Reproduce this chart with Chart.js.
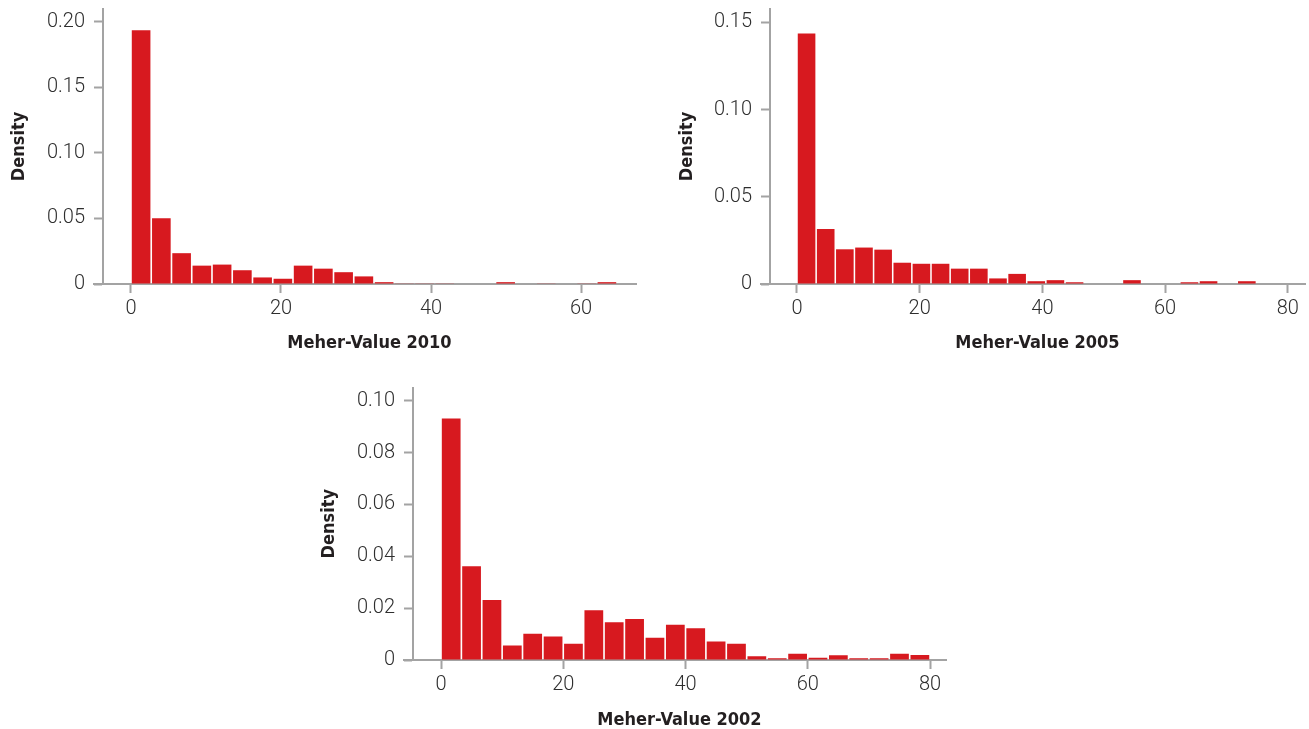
<!DOCTYPE html>
<html>
<head>
<meta charset="utf-8">
<script src="https://cdn.jsdelivr.net/npm/chart.js@4.4.1/dist/chart.umd.min.js"></script>
<style>
    html, body { margin: 0; padding: 0; background: #fff; overflow: hidden; }
    body { width: 1309px; height: 729px; position: relative; }
    canvas { position: absolute; }
</style>
</head>
<body>
<canvas id="chart2010" width="655" height="370" style="left:0px;top:0px"></canvas>
<canvas id="chart2005" width="654" height="370" style="left:655px;top:0px"></canvas>
<canvas id="chart2002" width="650" height="370" style="left:310px;top:375px"></canvas>
<script>
// histogram densities, one value per bin (bins start at 0)
var binWidth2010 = 2.7;
var density2010 = [0.1935, 0.0502, 0.0235, 0.0140, 0.0148, 0.0105, 0.0050, 0.0040, 0.0140, 0.0117,
                   0.0090, 0.0058, 0.0014, 0.0005, 0.0005, 0.0005, 0, 0, 0.0014, 0,
                   0.0005, 0, 0.0005, 0.0014];

var binWidth2005 = 3.12;
var density2005 = [0.1437, 0.0315, 0.0199, 0.0209, 0.0197, 0.0122, 0.0116, 0.0116, 0.0088, 0.0088,
                   0.0032, 0.0058, 0.0016, 0.0022, 0.0010, 0, 0, 0.0022, 0, 0,
                   0.0010, 0.0016, 0, 0.0016];

var binWidth2002 = 3.333;
var density2002 = [0.0931, 0.0362, 0.0231, 0.0056, 0.0101, 0.0091, 0.0063, 0.0192, 0.0146, 0.0158,
                   0.0086, 0.0136, 0.0122, 0.0071, 0.0063, 0.0014, 0.0007, 0.0024, 0.0009, 0.0018,
                   0.0007, 0.0007, 0.0024, 0.0019];

var xTicks2010 = [0, 20, 40, 60];
var xTicks2005 = [0, 20, 40, 60, 80];
var xTicks2002 = [0, 20, 40, 60, 80];

var yTicks2010 = [0, 0.05, 0.10, 0.15, 0.20];
var yLabels2010 = ['0', '0.05', '0.10', '0.15', '0.20'];
var yTicks2005 = [0, 0.05, 0.10, 0.15];
var yLabels2005 = ['0', '0.05', '0.10', '0.15'];
var yTicks2002 = [0, 0.02, 0.04, 0.06, 0.08, 0.10];
var yLabels2002 = ['0', '0.02', '0.04', '0.06', '0.08', '0.10'];

var barRed = '#d7191f';
var axisGray = '#a3a3a3';
var textDark = '#2e2e2e';
var tickFont = { family: "Roboto, 'DejaVu Sans Condensed', sans-serif", size: 20, weight: 300 };
var titleFont = { family: "'DejaVu Sans Condensed', 'Liberation Sans Narrow', sans-serif", size: 18, weight: 'bold' };

// short piece of the x axis line that sticks out left of the y axis
var axisStub = {
    id: 'axisStub',
    afterDraw: function(chart) {
        var ctx = chart.ctx;
        var area = chart.chartArea;
        var y = Math.round(area.bottom);
        ctx.save();
        ctx.strokeStyle = axisGray;
        ctx.lineWidth = 2;
        ctx.beginPath();
        ctx.moveTo(area.left - 10, y);
        ctx.lineTo(area.left, y);
        ctx.stroke();
        ctx.restore();
    }
};

function histogram(id, binWidth, densities, s)
{
    var points = densities.map(function(d, i) {
        return { x: binWidth * (i + 0.5), y: d };
    });

    return new Chart(document.getElementById(id), {
        type: 'bar',
        data: {
            datasets: [{
                data: points,
                backgroundColor: barRed,
                borderWidth: 0,
                barPercentage: 0.92,
                categoryPercentage: 1
            }]
        },
        plugins: [axisStub],
        options: {
            responsive: false,
            animation: false,
            layout: { padding: s.padding },
            plugins: {
                legend: { display: false },
                tooltip: { enabled: false }
            },
            scales: {
                x: {
                    type: 'linear',
                    offset: false,
                    min: s.xMin,
                    max: s.xMax,
                    afterBuildTicks: function(scale) {
                        scale.ticks = s.xTicks.map(function(v) { return { value: v }; });
                    },
                    afterFit: function(scale) {
                        scale.height = s.xHeight;
                        scale.paddingLeft = 0;
                        scale.paddingRight = 0;
                    },
                    grid: {
                        offset: false,
                        drawOnChartArea: false,
                        drawTicks: true,
                        tickLength: 9,
                        tickWidth: 2,
                        color: axisGray
                    },
                    border: { display: true, color: axisGray, width: 2 },
                    ticks: {
                        autoSkip: false,
                        maxRotation: 0,
                        padding: 4,
                        color: textDark,
                        font: tickFont,
                        callback: function(v) { return String(v); }
                    },
                    title: {
                        display: true,
                        text: s.xTitle,
                        color: '#231f20',
                        font: titleFont,
                        padding: { top: 0, bottom: s.xTitlePad }
                    }
                },
                y: {
                    min: 0,
                    max: s.yMax,
                    afterBuildTicks: function(scale) {
                        scale.ticks = s.yTicks.map(function(v) { return { value: v }; });
                    },
                    afterFit: function(scale) {
                        scale.width = s.yWidth;
                        scale.paddingTop = 0;
                        scale.paddingBottom = 0;
                    },
                    grid: {
                        drawOnChartArea: false,
                        drawTicks: true,
                        tickLength: 9,
                        tickWidth: 2,
                        color: axisGray
                    },
                    border: { display: true, color: axisGray, width: 2 },
                    ticks: {
                        padding: 9,
                        color: textDark,
                        font: tickFont,
                        callback: function(v) {
                            var i = s.yTicks.indexOf(v);
                            return i >= 0 ? s.yLabels[i] : '';
                        }
                    },
                    title: {
                        display: true,
                        text: 'Density',
                        color: '#231f20',
                        font: titleFont,
                        padding: { top: s.yTitlePad, bottom: 0 }
                    }
                }
            }
        }
    });
}

window.onload = function() {
    histogram('chart2010', binWidth2010, density2010, {
        padding: { top: 9, right: 19, left: 0, bottom: 0 },
        xMin: -3.73, xMax: 67.33, xTicks: xTicks2010, xHeight: 86,
        yMax: 0.2097, yTicks: yTicks2010, yLabels: yLabels2010, yWidth: 103,
        xTitle: 'Meher-Value 2010', xTitlePad: 16, yTitlePad: 9
    });
    histogram('chart2005', binWidth2005, density2005, {
        padding: { top: 9, right: 4, left: 0, bottom: 0 },
        xMin: -4.40, xMax: 82.8, xTicks: xTicks2005, xHeight: 86,
        yMax: 0.1577, yTicks: yTicks2005, yLabels: yLabels2005, yWidth: 115,
        xTitle: 'Meher-Value 2005', xTitlePad: 16, yTitlePad: 22
    });
    histogram('chart2002', binWidth2002, density2002, {
        padding: { top: 12.5, right: 14, left: 0, bottom: 0 },
        xMin: -4.58, xMax: 82.6, xTicks: xTicks2002, xHeight: 85,
        yMax: 0.1051, yTicks: yTicks2002, yLabels: yLabels2002, yWidth: 103,
        xTitle: 'Meher-Value 2002', xTitlePad: 14, yTitlePad: 8.5
    });
};
</script>
</body>
</html>
